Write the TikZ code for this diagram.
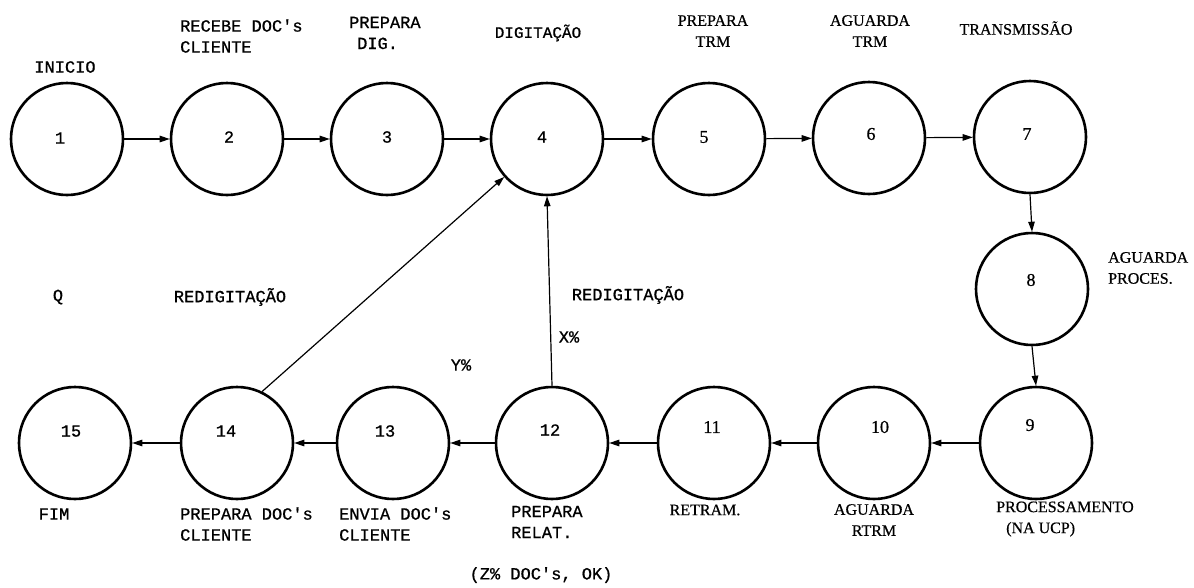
\documentclass[tikz,border=0pt]{standalone}
\usepackage{fontspec}
\setmainfont{Liberation Serif}[FakeBold=0.6]
\setmonofont{Liberation Mono}[FakeBold=0.8]
\usetikzlibrary{arrows.meta}
\begin{document}
\begin{tikzpicture}[x=1pt,y=-1pt,
  st/.style={circle,draw,line width=2.6pt,minimum size=112pt,inner sep=0pt},
  arr/.style={-{Triangle[length=10pt,width=6.5pt]},line width=1.2pt},
  tw/.style={font=\ttfamily\fontsize{17}{21}\selectfont,inner sep=0pt},
  sr/.style={font=\fontsize{16}{21}\selectfont,inner sep=0pt},
  srn/.style={font=\fontsize{18}{21}\selectfont,inner sep=0pt},
]
\useasboundingbox[fill=white] (0,0) rectangle (1194,587);
% circles
\node[st] (c1) at (67,139) {};
\node[st] (c2) at (227,139) {};
\node[st] (c3) at (387,139) {};
\node[st] (c4) at (547,139) {};
\node[st] (c5) at (709,139) {};
\node[st] (c6) at (869,138) {};
\node[st] (c7) at (1030,137) {};
\node[st] (c8) at (1032,289) {};
\node[st] (c9) at (1036,443) {};
\node[st] (c10) at (874,443) {};
\node[st] (c11) at (714,443) {};
\node[st] (c12) at (552,443) {};
\node[st] (c13) at (393,443) {};
\node[st] (c14) at (237,443) {};
\node[st] (c15) at (75,443) {};
% numbers
\node[tw] (n1) at (60,138) {1};
\node[tw] (n2) at (229,137) {2};
\node[tw] (n3) at (387,137) {3};
\node[tw] (n4) at (542,137) {4};
\node[srn] (n5) at (704,137) {5};
\node[srn] (n6) at (871,134) {6};
\node[srn] (n7) at (1027,134) {7};
\node[srn] (n8) at (1031,280) {8};
\node[srn] (n9) at (1030,425) {9};
\node[srn] (n10) at (880,427) {10};
\node[srn] (n11) at (712,427) {11};
\node[tw] (n12) at (550,430) {12};
\node[tw] (n13) at (385,431) {13};
\node[tw] (n14) at (226,431) {14};
\node[tw] (n15) at (71,431) {15};
% connectors
\draw[arr] (c1) -- (c2);
\draw[arr] (c2) -- (c3);
\draw[arr] (c3) -- (c4);
\draw[arr] (c4) -- (c5);
\draw[arr] (c5) -- (c6);
\draw[arr] (c6) -- (c7);
\draw[arr] (c7.south) -- (c8.north);
\draw[arr] (c8.south) -- (c9.north);
\draw[arr] (c9) -- (c10);
\draw[arr] (c10) -- (c11);
\draw[arr] (c11) -- (c12);
\draw[arr] (c12) -- (c13);
\draw[arr] (c13) -- (c14);
\draw[arr] (c14) -- (c15);
\draw[arr] (c12.north) -- (c4.south);
\draw[arr] (c14.64) -- (c4);
% labels top
\node[tw] (l1) at (65,67) {INICIO};
\node[tw,align=left,anchor=west] (l2) at (180,36) {RECEBE DOC's\\CLIENTE};
\node[tw,align=left,anchor=west] (l3) at (349,33) {PREPARA\\\hspace{8pt}DIG.};
\node[tw,font=\ttfamily\fontsize{16}{21}\selectfont] (l4) at (538,33) {DIGITAÇÃO};
\node[sr,align=center] (l5) at (713,31) {PREPARA\\TRM};
\node[sr,align=center] (l6) at (870,31) {AGUARDA\\TRM};
\node[sr] (l7) at (1016,28) {TRANSMISSÃO};
\node[sr,align=left,anchor=west] (l8) at (1108,268) {AGUARDA\\PROCES.};
% labels bottom
\node[sr,align=left,anchor=west] (l9) at (996,519) {PROCESSAMENTO\\\hspace{10pt}(NA UCP)};
\node[sr,align=center] (l10) at (874,520) {AGUARDA\\RTRM};
\node[sr] (l11) at (705,510) {RETRAM.};
\node[tw,align=left,anchor=west] (l12) at (511,522) {PREPARA\\RELAT.};
\node[tw,align=left,anchor=west] (l13) at (339,524) {ENVIA DOC's\\CLIENTE};
\node[tw,align=left,anchor=west] (l14) at (180,524) {PREPARA DOC's\\CLIENTE};
\node[tw] (l15) at (54,514) {FIM};
\node[tw] (lz) at (541,575) {(Z\% DOC's, OK)};
% middle labels
\node[tw] (lq) at (58,297) {Q};
\node[tw] (lr1) at (230,297) {REDIGITAÇÃO};
\node[tw] (lr2) at (628,295) {REDIGITAÇÃO};
\node[tw] (lx) at (569,337) {X\%};
\node[tw] (ly) at (461,365) {Y\%};
\end{tikzpicture}
\end{document}
